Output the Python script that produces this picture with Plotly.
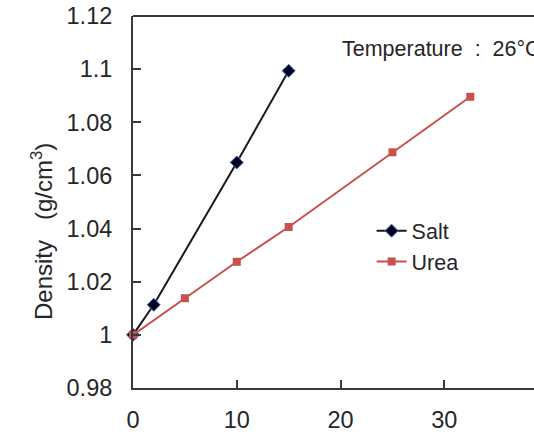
import plotly.graph_objects as go

salt_x = [0, 2, 10, 15]
salt_y = [1.0, 1.0113, 1.0649, 1.0994]
urea_x = [0, 5, 10, 15, 25, 32.5]
urea_y = [1.0, 1.0138, 1.0275, 1.0406, 1.0687, 1.0896]
y_ticks = [0.98, 1.0, 1.02, 1.04, 1.06, 1.08, 1.1, 1.12]
y_labels = ["0.98", "1", "1.02", "1.04", "1.06", "1.08", "1.1", "1.12"]
x_ticks = [0, 10, 20, 30]
x_labels = ["0", "10", "20", "30"]

FONT = "Liberation Sans, Arial, sans-serif"
TXT = "#262626"
AX = "#3a3a3a"

fig = go.Figure()
fig.add_trace(go.Scatter(
    x=salt_x, y=salt_y, name="Salt", mode="lines+markers",
    line=dict(color="#1a1a1a", width=2),
    marker=dict(symbol="diamond", size=10, color="#000022",
                line=dict(color="#4a6fa5", width=1)),
    cliponaxis=False))
fig.add_trace(go.Scatter(
    x=urea_x, y=urea_y, name="Urea", mode="lines+markers",
    line=dict(color="#c8504d", width=2),
    marker=dict(symbol="square", size=8, color="#c8504d"),
    cliponaxis=False))

fig.update_layout(
    width=534, height=438,
    margin=dict(l=133, r=0, t=16, b=50),
    paper_bgcolor="white", plot_bgcolor="white",
    font=dict(family=FONT, color=TXT, size=22),
    showlegend=True,
    legend=dict(x=0.595, y=0.478, xanchor="left", yanchor="top",
                bgcolor="rgba(0,0,0,0)", font=dict(size=21.5, color=TXT),
                tracegroupgap=0, itemwidth=30),
    xaxis=dict(range=[0, 38.64], tickvals=x_ticks, ticktext=x_labels,
               showgrid=False, zeroline=False, showline=True,
               linecolor=AX, linewidth=2, ticks="inside", ticklen=8,
               tickwidth=2, tickcolor=AX, ticklabelstandoff=10,
               tickfont=dict(size=23.5, color=TXT)),
    yaxis=dict(range=[0.98, 1.12], tickvals=y_ticks, ticktext=y_labels,
               showgrid=False, zeroline=False, showline=True,
               linecolor=AX, linewidth=2, ticks="inside", ticklen=8,
               tickwidth=2, tickcolor=AX, ticklabelstandoff=14,
               tickfont=dict(size=23.5, color=TXT)),
)

fig.add_shape(type="line", xref="paper", yref="paper", x0=0, x1=1.02,
              y0=1, y1=1, line=dict(color=AX, width=2))

fig.add_annotation(xref="paper", yref="paper", x=(340 - 133) / 401, y=1 - (49 - 16) / 372,
                   xanchor="left", yanchor="middle", showarrow=False,
                   text="Temperature  :  26°C", font=dict(size=21.5, color=TXT))

fig.add_annotation(xref="paper", yref="paper", x=(42 - 133) / 401, y=1 - (232 - 16) / 372,
                   xanchor="center", yanchor="middle", showarrow=False, textangle=-90,
                   text="Density   (g/cm<sup>3</sup>)", font=dict(size=24, color=TXT))

fig.write_html("out.html")
